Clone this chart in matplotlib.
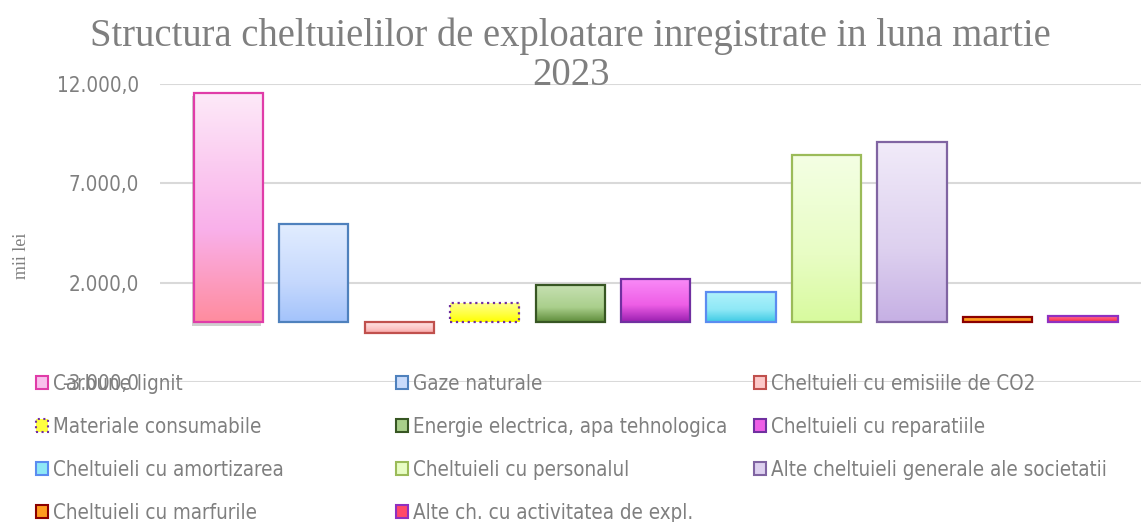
import numpy as np
import matplotlib
matplotlib.use('Agg')
import matplotlib.pyplot as plt
from matplotlib.colors import LinearSegmentedColormap
from matplotlib.patches import Patch
from matplotlib import patheffects as pe

# date (mii lei)
categorii = ['Carbune lignit', 'Gaze naturale', 'Cheltuieli cu emisiile de CO2',
             'Materiale consumabile', 'Energie electrica, apa tehnologica',
             'Cheltuieli cu reparatiile', 'Cheltuieli cu amortizarea',
             'Cheltuieli cu personalul', 'Alte cheltuieli generale ale societatii',
             'Cheltuieli cu marfurile', 'Alte ch. cu activitatea de expl.']
valori = [11570, 4960, -530, 980, 1860, 2160, 1550, 8440, 9080, 270, 335]

# culori: (sus, mijloc, jos), contur
degradeuri = [('#FDEAF8', '#F9B0EA', '#FF8C9E'),
              ('#E2EDFF', '#C5D8FD', '#A3C3FB'),
              ('#FFE4E4', '#FCC4C4', '#F8A4A4'),
              ('#FFFF90', '#FFFF40', '#FFFF00'),
              ('#C6E0B2', '#AACF8C', '#5E8C3A'),
              ('#F98AF7', '#EE5EE6', '#9A1FB0'),
              ('#B2F2FB', '#8EE8F6', '#3ECAE4'),
              ('#F4FFE4', '#E8FDC4', '#D8FA9E'),
              ('#F1EBF9', '#DDD0EF', '#C6B0E4'),
              ('#FFAA30', '#FF9C20', '#F08C10'),
              ('#FF7A95', '#FF4A68', '#E8284C')]
contururi = ['#E03CA8', '#4F81BD', '#C0504D', '#7030A0', '#375623', '#7030A0',
             '#5B8CF0', '#9BBB59', '#8064A2', '#8B0000', '#9030C0']
legenda_fill = ['#F9C0EC', '#C9DBFB', '#FCC8C8', '#FFFF40', '#A8CF8A', '#EE5EE6',
                '#8EE8F6', '#E8FDC4', '#DDD0EF', '#FF9C20', '#FF4A68']

gri = '#7F7F7F'
fig = plt.figure(figsize=(11.41, 5.22), dpi=100)
ax = fig.add_axes([160 / 1141, 1 - 382 / 522, 1 - 160 / 1141, (382 - 84) / 522])

x = np.arange(len(valori))
latime = 0.81
bare = ax.bar(x, valori, width=latime, color='none', edgecolor='none', zorder=2)
bare[0].set_facecolor('white')
bare[0].set_path_effects([pe.SimplePatchShadow(offset=(-1.5, -2.5), shadow_rgbFace='#888888', alpha=0.4),
                          pe.Normal()])

grad = np.linspace(0, 1, 256).reshape(-1, 1)
for b, cols in zip(bare, degradeuri):
    cmap = LinearSegmentedColormap.from_list('g', [(0, cols[0]), (0.6, cols[1]), (1, cols[2])])
    x0 = b.get_x()
    y0 = b.get_y()
    h = b.get_height()
    lo, hi = min(y0, y0 + h), max(y0, y0 + h)
    im = ax.imshow(grad, cmap=cmap, extent=(x0, x0 + latime, lo, hi), aspect='auto',
                   origin='upper', zorder=2.5, interpolation='bilinear')
    im.set_clip_path(b)

contur = ax.bar(x, valori, width=latime, fill=False, edgecolor=contururi, linewidth=1.6,
                zorder=3)
contur[3].set_linestyle(':')

ax.set_xlim(-0.8, 10.68)
ax.set_ylim(-3000, 12000)
ax.set_yticks([-3000, 2000, 7000, 12000])
ax.set_yticklabels(['-3.000,0', '2.000,0', '7.000,0', '12.000,0'])
ax.set_xticks([])
ax.tick_params(axis='y', length=0, pad=15, labelsize=14.8, labelcolor=gri)
for t in ax.get_yticklabels():
    t.set_fontstretch('condensed')
ax.grid(axis='y', color='#D9D9D9', linewidth=1.5, zorder=0)
ax.set_axisbelow(True)
for s in ax.spines.values():
    s.set_visible(False)

fig.text(0.019, 0.51, 'mii lei', rotation=90, ha='center', va='center',
         family='Liberation Serif', fontsize=13, color=gri)
fig.text(0.5, 0.966, 'Structura cheltuielilor de exploatare inregistrate in luna martie\n2023',
         ha='center', va='top', family='Liberation Serif', fontsize=27.8, color=gri,
         linespacing=1.08)

# legenda pe 3 coloane (ordinea pe randuri), fiecare coloana separat
handles = [Patch(facecolor=f, edgecolor=e, linewidth=1.5, linestyle=(':' if i == 3 else '-'))
           for i, (f, e) in enumerate(zip(legenda_fill, contururi))]
coloane = [[0, 3, 6, 9], [1, 4, 7, 10], [2, 5, 8]]
x_col = [36, 396, 754]
for idx, xc in zip(coloane, x_col):
    leg = fig.legend([handles[i] for i in idx], [categorii[i] for i in idx],
                     loc='upper left', bbox_to_anchor=(xc / 1141, 1 - 374 / 522), ncol=1,
                     frameon=False, fontsize=14.8, handlelength=0.6, handleheight=0.6,
                     handletextpad=0.25, labelspacing=1.12,
                     borderaxespad=0, borderpad=0)
    for t in leg.get_texts():
        t.set_color(gri)
        t.set_fontstretch('condensed')

fig.savefig('out.png', dpi=100)
